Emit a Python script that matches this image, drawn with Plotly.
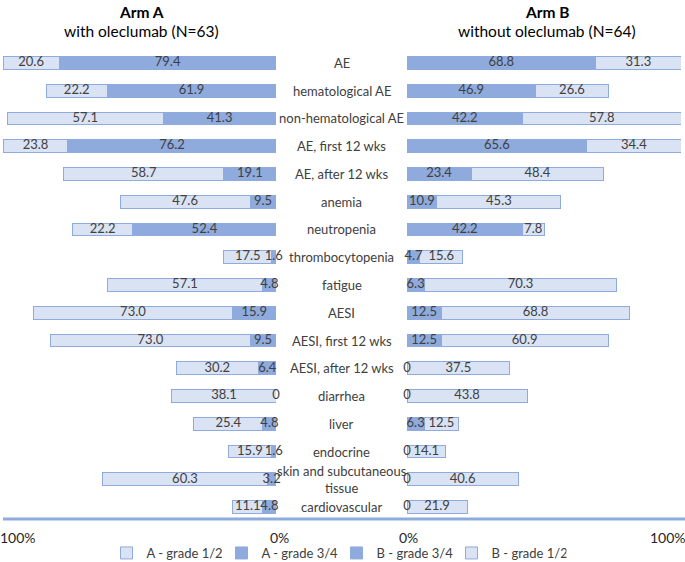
import plotly.graph_objects as go

# data (% of patients)
categories = ['AE', 'hematological AE', 'non-hematological AE', 'AE, first 12 wks',
              'AE, after 12 wks', 'anemia', 'neutropenia', 'thrombocytopenia',
              'fatigue', 'AESI', 'AESI, first 12 wks', 'AESI, after 12 wks',
              'diarrhea', 'liver', 'endocrine', 'skin and subcutaneous tissue',
              'cardiovascular']
cat_labels = [c if c != 'skin and subcutaneous tissue' else 'skin and subcutaneous<br>tissue'
              for c in categories]

a_grade12 = [20.6, 22.2, 57.1, 23.8, 58.7, 47.6, 22.2, 17.5, 57.1, 73.0, 73.0, 30.2, 38.1, 25.4, 15.9, 60.3, 11.1]
a_grade34 = [79.4, 61.9, 41.3, 76.2, 19.1, 9.5, 52.4, 1.6, 4.8, 15.9, 9.5, 6.4, 0, 4.8, 1.6, 3.2, 4.8]
b_grade34 = [68.8, 46.9, 42.2, 65.6, 23.4, 10.9, 42.2, 4.7, 6.3, 12.5, 12.5, 0, 0, 6.3, 0, 0, 0]
b_grade12 = [31.3, 26.6, 57.8, 34.4, 48.4, 45.3, 7.8, 15.6, 70.3, 68.8, 60.9, 37.5, 43.8, 12.5, 14.1, 40.6, 21.9]

dark = '#8FAADC'
light = '#DAE3F3'
txt = '#404040'
font = 'Lato'

fig = go.Figure()

bar_style = dict(orientation='h', width=0.46, hoverinfo='skip')

fig.add_trace(go.Bar(y=categories, x=a_grade34, name='A - grade 3/4', legendrank=2,
                     marker=dict(color=dark, line=dict(color=dark, width=1)),
                     xaxis='x', yaxis='y', **bar_style))
fig.add_trace(go.Bar(y=categories, x=a_grade12, name='A - grade 1/2', legendrank=1,
                     marker=dict(color=light, line=dict(color=dark, width=1)),
                     xaxis='x', yaxis='y', **bar_style))
fig.add_trace(go.Bar(y=categories, x=b_grade34, name='B - grade 3/4', legendrank=3,
                     marker=dict(color=dark, line=dict(color=dark, width=1)),
                     xaxis='x2', yaxis='y2', **bar_style))
fig.add_trace(go.Bar(y=categories, x=b_grade12, name='B - grade 1/2', legendrank=4,
                     marker=dict(color=light, line=dict(color=dark, width=1)),
                     xaxis='x2', yaxis='y2', **bar_style))

# value labels centred on each segment (zeros sit at the baseline, like Excel)
def label_trace(inner, outer, xa, ya):
    xs, ys, ts = [], [], []
    for c, v1, v2 in zip(categories, inner, outer):
        xs += [v1 / 2, v1 + v2 / 2]
        ys += [c, c]
        ts += [('0' if v1 == 0 else f'{v1:.1f}'), ('0' if v2 == 0 else f'{v2:.1f}')]
    return go.Scatter(x=xs, y=ys, text=ts, mode='text', showlegend=False,
                      textfont=dict(family=font, size=13, color=txt),
                      cliponaxis=False, hoverinfo='skip', xaxis=xa, yaxis=ya)

fig.add_trace(label_trace(a_grade34, a_grade12, 'x', 'y'))
fig.add_trace(label_trace(b_grade34, b_grade12, 'x2', 'y2'))

W, H = 685, 562
top, bottom = 49, 521
ph = bottom - top

def py(y):  # pixel row -> paper y
    return (bottom - y) / ph

annotations = []
for c, lab in zip(categories, cat_labels):
    annotations.append(dict(x=341.5 / W, xref='paper', y=c, yref='y', text=lab,
                            showarrow=False, xanchor='center', yanchor='middle',
                            font=dict(family=font, size=13, color=txt)))

for x, t in [(141, '<b>Arm A</b>'), (547, '<b>Arm B</b>')]:
    annotations.append(dict(x=x / W, y=py(12), xref='paper', yref='paper', text=t,
                            showarrow=False, xanchor='center', yanchor='middle',
                            font=dict(family=font, size=15.5, color='black')))
for x, t in [(141, 'with oleclumab (N=63)'), (547, 'without oleclumab (N=64)')]:
    annotations.append(dict(x=x / W, y=py(31), xref='paper', yref='paper', text=t,
                            showarrow=False, xanchor='center', yanchor='middle',
                            font=dict(family=font, size=15.5, color='black')))

for x, t in [(18, '100%'), (279, '0%'), (408, '0%'), (668, '100%')]:
    annotations.append(dict(x=x / W, y=py(537), xref='paper', yref='paper', text=t,
                            showarrow=False, xanchor='center', yanchor='middle',
                            font=dict(family=font, size=14, color='#262626')))

n = len(categories)
fig.update_layout(
    width=W, height=H,
    margin=dict(l=0, r=0, t=top, b=H - bottom, autoexpand=False),
    plot_bgcolor='white', paper_bgcolor='white',
    barmode='stack',
    xaxis=dict(domain=[3 / W, 276 / W], range=[100, 0], visible=False),
    xaxis2=dict(domain=[407 / W, 681 / W], range=[0, 100], visible=False),
    yaxis=dict(categoryorder='array', categoryarray=categories, range=[n - 0.5, -0.5],
               visible=False, anchor='x'),
    yaxis2=dict(categoryorder='array', categoryarray=categories, range=[n - 0.5, -0.5],
                visible=False, anchor='x2', matches='y'),
    showlegend=True,
    legend=dict(orientation='h', x=0.5 - 6 / W, xanchor='center', y=py(553), yanchor='middle',
                font=dict(family=font, size=13, color=txt), itemwidth=30,
                entrywidth=70, traceorder='normal'),
    annotations=annotations,
    shapes=[dict(type='line', xref='paper', yref='paper', x0=3 / W, x1=1,
                 y0=py(519), y1=py(519), line=dict(color=dark, width=3))],
)

# drop the default page margin so the figure sits at the window's corner
fig.write_html("out.html", config={'displayModeBar': False},
               post_script="document.body.style.margin='0';")
